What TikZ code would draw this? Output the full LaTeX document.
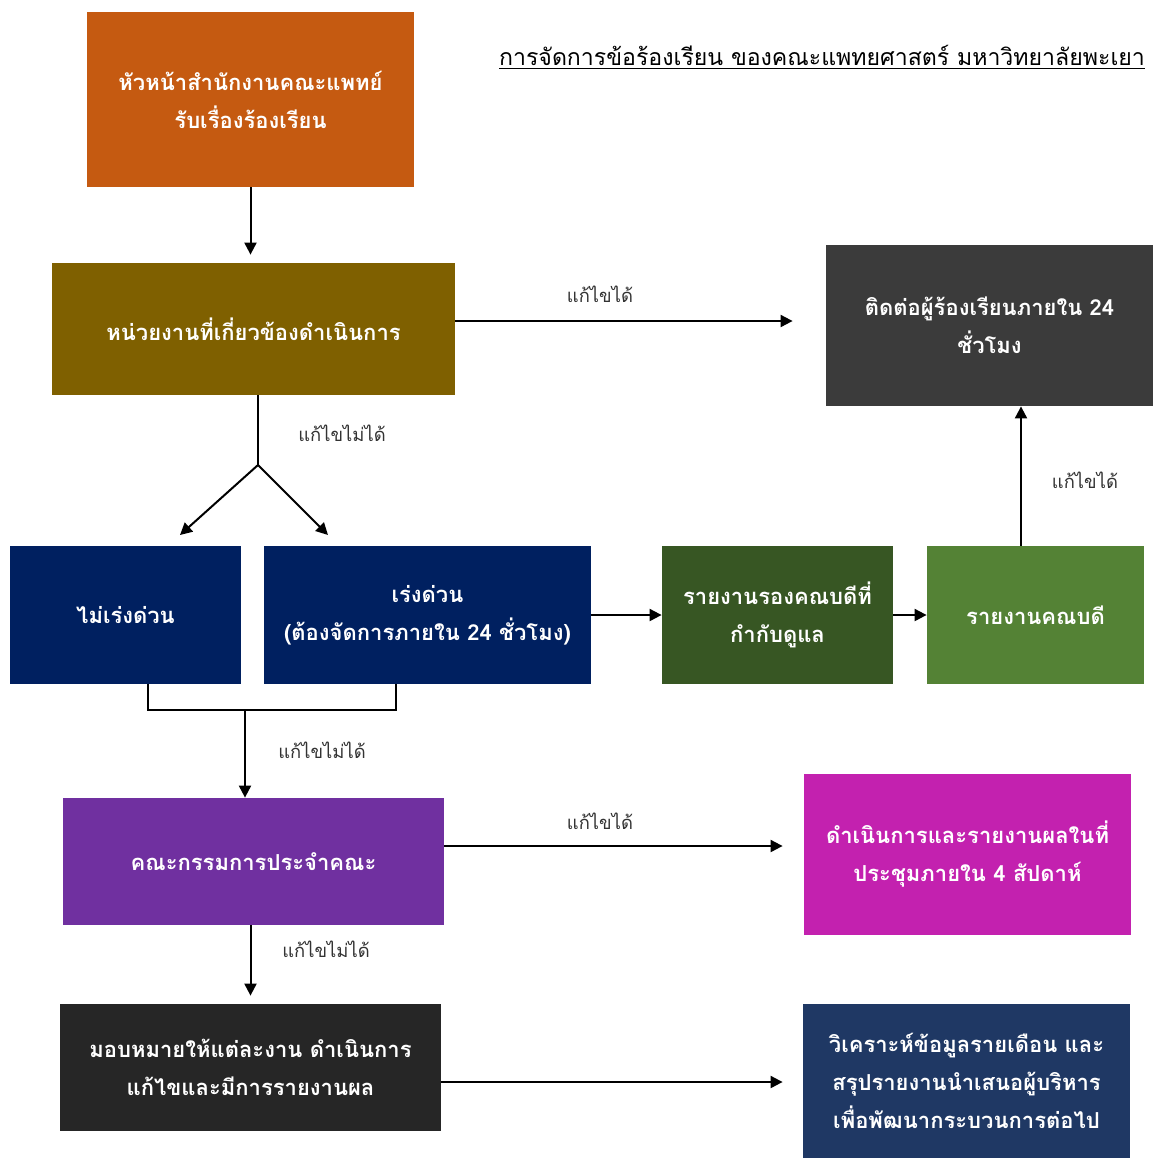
\documentclass[tikz,border=0pt]{standalone}
\usepackage{fontspec}
\newfontfamily\thaifont[Script=Thai]{Loma}
\usetikzlibrary{arrows.meta}

\definecolor{cOrange}{HTML}{C55A11}
\definecolor{cOlive}{HTML}{7F6000}
\definecolor{cGrey}{HTML}{3B3B3B}
\definecolor{cNavy}{HTML}{002060}
\definecolor{cDarkGreen}{HTML}{375623}
\definecolor{cGreen}{HTML}{548235}
\definecolor{cPurple}{HTML}{7030A0}
\definecolor{cMagenta}{HTML}{C321AF}
\definecolor{cBlack}{HTML}{262626}
\definecolor{cBlue}{HTML}{1F3864}

\tikzset{
  box/.style={rectangle, inner sep=2pt, align=center, text=white,
    font=\thaifont\bfseries\fontsize{11}{19}\selectfont},
  lbl/.style={text=black!80, font=\thaifont\fontsize{9.2}{12}\selectfont},
  arr/.style={line width=1pt, -{Triangle[length=6pt,width=6pt]}},
  ln/.style={line width=1pt}
}

\begin{document}
\begin{tikzpicture}[x=0.5pt,y=-0.5pt]
\useasboundingbox (0,0) rectangle (1153,1158);
% boxes
\node[box, fill=cOrange, minimum width=163.5pt, minimum height=87.5pt] (head) at (250.5,99.5) {หัวหน้าสำนักงานคณะแพทย์\\รับเรื่องร้องเรียน};
\node[box, fill=cOlive, minimum width=201.5pt, minimum height=66pt] (unit) at (253.5,329) {หน่วยงานที่เกี่ยวข้องดำเนินการ};
\node[box, fill=cGrey, minimum width=163.5pt, minimum height=80.5pt] (contact) at (989.5,325.5) {ติดต่อผู้ร้องเรียนภายใน 24\\ชั่วโมง};
\node[box, fill=cNavy, minimum width=115.5pt, minimum height=69pt] (slow) at (125.5,615) {ไม่เร่งด่วน};
\node[box, fill=cNavy, minimum width=163.5pt, minimum height=69pt] (urgent) at (427.5,615) {เร่งด่วน\\(ต้องจัดการภายใน 24 ชั่วโมง)};
\node[box, fill=cDarkGreen, minimum width=115.5pt, minimum height=69pt] (vice) at (777.5,615) {รายงานรองคณบดีที่\\กำกับดูแล};
\node[box, fill=cGreen, minimum width=108.5pt, minimum height=69pt] (dean) at (1035.5,615) {รายงานคณบดี};
\node[box, fill=cPurple, minimum width=190.5pt, minimum height=63.5pt] (board) at (253.5,861.5) {คณะกรรมการประจำคณะ};
\node[box, fill=cMagenta, minimum width=163.5pt, minimum height=80.5pt] (meeting) at (967.5,854.5) {ดำเนินการและรายงานผลในที่\\ประชุมภายใน 4 สัปดาห์};
\node[box, fill=cBlack, minimum width=190.5pt, minimum height=63.5pt] (assign) at (250.5,1067.5) {มอบหมายให้แต่ละงาน ดำเนินการ\\แก้ไขและมีการรายงานผล};
\node[box, fill=cBlue, minimum width=163.5pt, minimum height=77pt] (analyse) at (966.5,1081) {วิเคราะห์ข้อมูลรายเดือน และ\\สรุปรายงานนำเสนอผู้บริหาร\\เพื่อพัฒนากระบวนการต่อไป};
% title
\node[font=\thaifont\fontsize{11.55}{14}\selectfont] (title) at (822,57) {\underline{การจัดการข้อร้องเรียน ของคณะแพทยศาสตร์ มหาวิทยาลัยพะเยา}};
% helper points
\coordinate (split) at (258,465);
\coordinate (tipL) at (180,535);
\coordinate (tipR) at (328,535);
\coordinate (joinL) at (148,710);
\coordinate (joinM) at (245,710);
\coordinate (joinR) at (396,710);
% connectors
\draw[arr, shorten >=4pt] (head.south) -- (head.south |- unit.north);
\draw[arr, shorten >=16.5pt] (unit.east |- 0,321) -- (contact.west |- 0,321);
\draw[ln] (unit.south -| split) -- (split);
\draw[arr] (split) -- (tipL);
\draw[arr] (split) -- (tipR);
\draw[arr] (urgent.east) -- (vice.west);
\draw[arr] (vice.east) -- (dean.west);
\draw[arr] (dean.north -| 1021,0) -- (contact.south -| 1021,0);
\draw[ln] (slow.south -| joinL) -- (joinL) -- (joinR) -- (urgent.south -| joinR);
\draw[arr] (joinM) -- (board.north -| joinM);
\draw[arr, shorten >=10.5pt] (board.east |- 0,846) -- (meeting.west |- 0,846);
\draw[arr, shorten >=4pt] (board.south -| assign.south) -- (assign.north);
\draw[arr, shorten >=10pt] (assign.east |- 0,1082) -- (analyse.west |- 0,1082);
% labels
\node[lbl] (l1) at (600,294) {แก้ไขได้};
\node[lbl] (l2) at (342,433) {แก้ไขไม่ได้};
\node[lbl] (l3) at (1085,480) {แก้ไขได้};
\node[lbl] (l4) at (322,750) {แก้ไขไม่ได้};
\node[lbl] (l5) at (600,821) {แก้ไขได้};
\node[lbl] (l6) at (326,949) {แก้ไขไม่ได้};
\end{tikzpicture}
\end{document}
